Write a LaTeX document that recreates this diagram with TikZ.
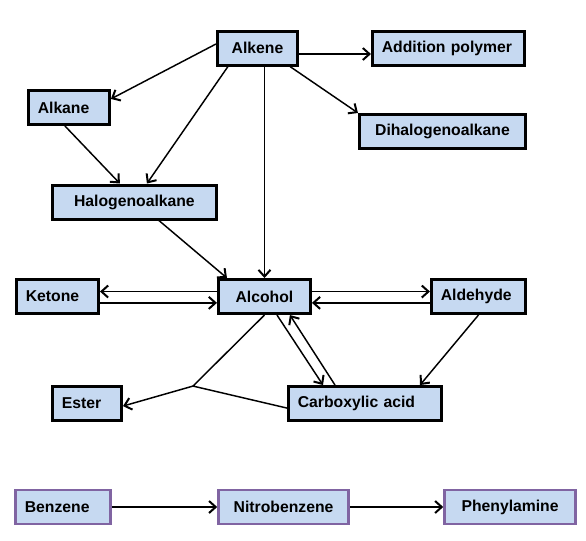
\documentclass[tikz,border=0pt]{standalone}
\usepackage{fontspec}
\setmainfont{Liberation Sans}
\usepackage{tikz}
\usetikzlibrary{positioning,arrows.meta}
\definecolor{boxfill}{RGB}{198,217,241}
\definecolor{benzline}{RGB}{128,100,162}

\begin{document}
\begin{tikzpicture}[font=\fontsize{11.8}{14}\selectfont\bfseries,>={Straight Barb[length=5pt,width=9pt,line width=1.5pt]},on grid,
  bx/.style={draw,line width=2.25pt,fill=boxfill,minimum height=25.5pt,inner xsep=7pt,inner ysep=0pt,align=left},
  pbx/.style={bx,draw=benzline,line width=2pt},
  ar/.style={->,line width=1.1pt}]
\useasboundingbox (0,0) rectangle (439.5pt,-405pt);
% alkene and what it gives
\node[bx,text width=46pt,align=center] (alkene) at (193.1pt,-36pt) {Alkene};
\node[bx,text width=100pt,right=143.25pt of alkene] (addpoly) {Addition polymer};
\node[bx,text width=46.75pt,below left=44.6pt and 141.4pt of alkene] (alkane) {Alkane};
\node[bx,text width=110.5pt,align=center,below right=62.6pt and 138.75pt of alkene] (dihalo) {Dihalogenoalkane};
\node[bx,text width=109pt,align=center,below right=70.9pt and 49.1pt of alkane] (halo) {Halogenoalkane};
% alcohol row
\node[bx,text width=55pt,align=center,below right=186.4pt and 5.25pt of alkene] (alcohol) {Alcohol};
\node[bx,text width=47.5pt,left=155.25pt of alcohol] (ketone) {Ketone};
\node[bx,text width=56.5pt,right=160.5pt of alcohol] (aldehyde) {Aldehyde};
\node[bx,text width=100.75pt,below right=80.25pt and 75.4pt of alcohol] (carbox) {Carboxylic acid};
\node[bx,text width=37.75pt,left=208.5pt of carbox] (ester) {Ester};
\coordinate[above right=13.1pt and 79.5pt of ester] (split);
% benzene row
\node[pbx,text width=57.25pt,below left=77.6pt and 18pt of ester] (benzene) {Benzene};
\node[pbx,text width=83.5pt,align=center,right=165.4pt of benzene] (nitro) {Nitrobenzene};
\node[pbx,text width=84.25pt,align=center,right=169.9pt of nitro] (phenyl) {Phenylamine};
% arrows
\draw[ar] ([yshift=3pt]alkene.west) -- ([yshift=6.4pt]alkane.east);
\draw[ar] ([xshift=9pt]alkene.south west) -- ([xshift=9.4pt]halo.north);
\draw[ar] ([yshift=-4.5pt]alkene.east) -- ([yshift=-4.5pt]addpoly.west);
\draw[ar] ([xshift=-6.75pt]alkene.south east) -- (dihalo.north west);
\draw[ar] (alkene.south -| alcohol.north) -- (alcohol.north);
\draw[ar] ([xshift=-3pt]alkane.south) -- ([xshift=-10.9pt]halo.north);
\draw[ar] ([xshift=18.4pt]halo.south) -- ([xshift=7.5pt]alcohol.north west);
\draw[ar] ([yshift=3.75pt]alcohol.west) -- ([yshift=3.75pt]ketone.east);
\draw[ar] ([yshift=-4.75pt]ketone.east) -- ([yshift=-4.75pt]alcohol.west);
\draw[ar] ([yshift=3.75pt]alcohol.east) -- ([yshift=3.75pt]aldehyde.west);
\draw[ar] ([yshift=-4.75pt]aldehyde.west) -- ([yshift=-4.75pt]alcohol.east);
\draw[ar] ([xshift=9.4pt]alcohol.south) -- ([xshift=-31.5pt]carbox.north);
\draw[ar] ([xshift=-22.5pt]carbox.north) -- ([xshift=19.1pt]alcohol.south);
\draw[ar] (aldehyde.south) -- ([xshift=41.25pt]carbox.north);
% ester from alcohol + acid
\draw[line width=1.1pt] (alcohol.south) -- (split) -- ([yshift=-3.4pt]carbox.west);
\draw[ar] (split) -- ([yshift=-1.9pt]ester.east);
\draw[ar] (benzene) -- (nitro);
\draw[ar] (nitro) -- (phenyl);
\end{tikzpicture}
\end{document}
